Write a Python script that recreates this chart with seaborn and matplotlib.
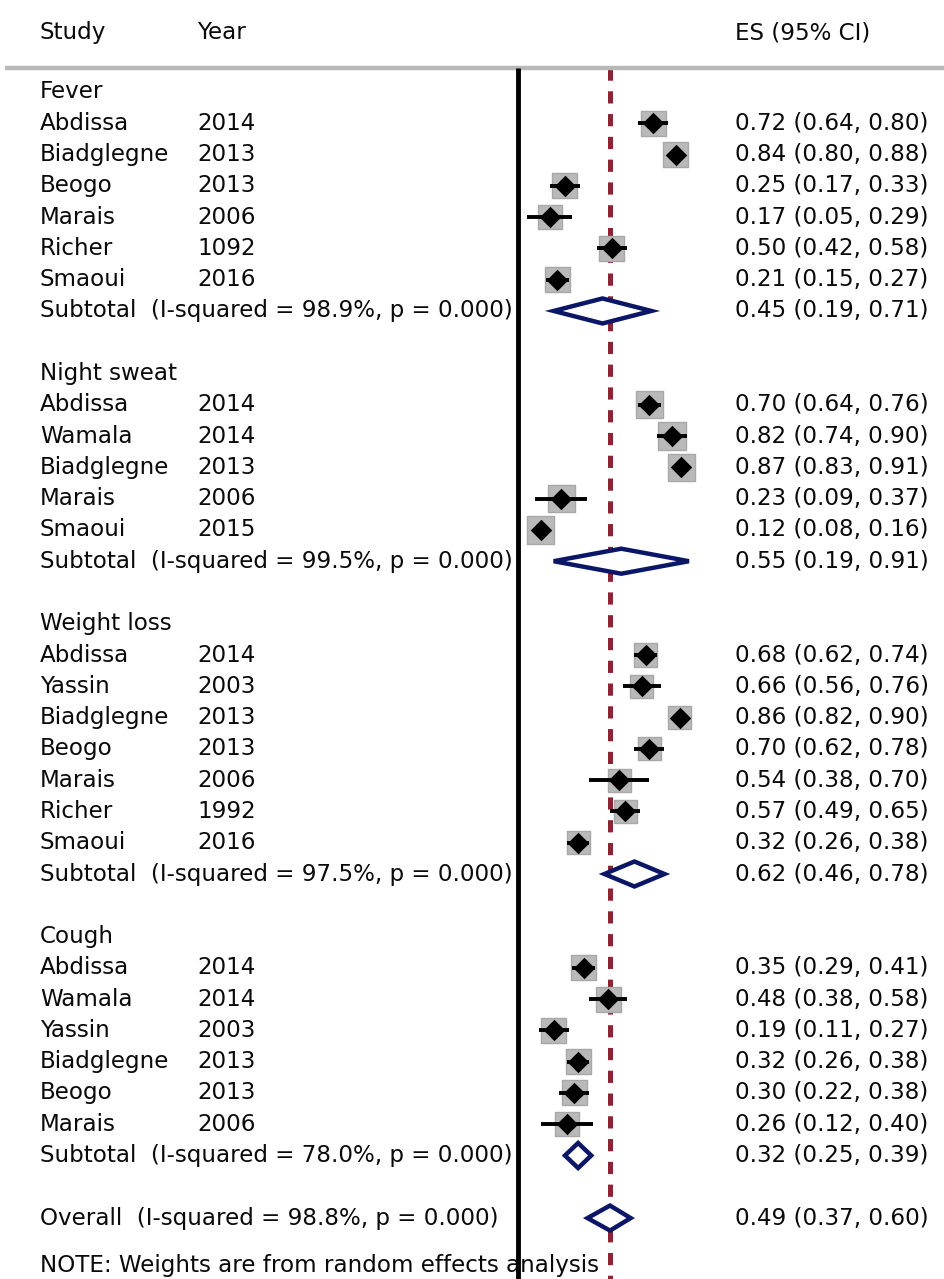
import matplotlib
matplotlib.use("Agg")
import matplotlib.pyplot as plt
import seaborn as sns
import pandas as pd
import numpy as np

# ---------------- data ----------------
groups = ["Fever", "Night sweat", "Weight loss", "Cough"]

fever_study = ["Abdissa", "Biadglegne", "Beogo", "Marais", "Richer", "Smaoui"]
fever_year = ["2014", "2013", "2013", "2006", "1092", "2016"]
fever_es = [0.72, 0.84, 0.25, 0.17, 0.50, 0.21]
fever_lo = [0.64, 0.80, 0.17, 0.05, 0.42, 0.15]
fever_hi = [0.80, 0.88, 0.33, 0.29, 0.58, 0.27]
fever_w = [16.7, 16.8, 16.7, 16.4, 16.7, 16.8]

night_study = ["Abdissa", "Wamala", "Biadglegne", "Marais", "Smaoui"]
night_year = ["2014", "2014", "2013", "2006", "2015"]
night_es = [0.70, 0.82, 0.87, 0.23, 0.12]
night_lo = [0.64, 0.74, 0.83, 0.09, 0.08]
night_hi = [0.76, 0.90, 0.91, 0.37, 0.16]
night_w = [20.1, 19.9, 20.1, 19.7, 20.2]

weight_study = ["Abdissa", "Yassin", "Biadglegne", "Beogo", "Marais", "Richer", "Smaoui"]
weight_year = ["2014", "2003", "2013", "2013", "2006", "1992", "2016"]
weight_es = [0.68, 0.66, 0.86, 0.70, 0.54, 0.57, 0.32]
weight_lo = [0.62, 0.56, 0.82, 0.62, 0.38, 0.49, 0.26]
weight_hi = [0.74, 0.76, 0.90, 0.78, 0.70, 0.65, 0.38]
weight_w = [14.4, 14.2, 14.5, 14.3, 13.9, 14.3, 14.4]

cough_study = ["Abdissa", "Wamala", "Yassin", "Biadglegne", "Beogo", "Marais"]
cough_year = ["2014", "2014", "2003", "2013", "2013", "2006"]
cough_es = [0.35, 0.48, 0.19, 0.32, 0.30, 0.26]
cough_lo = [0.29, 0.38, 0.11, 0.26, 0.22, 0.12]
cough_hi = [0.41, 0.58, 0.27, 0.38, 0.38, 0.40]
cough_w = [17.0, 16.6, 16.8, 17.0, 16.8, 15.8]

sub_i2 = ["98.9%", "99.5%", "97.5%", "78.0%"]
sub_es = [0.45, 0.55, 0.62, 0.32]
sub_lo = [0.19, 0.19, 0.46, 0.25]
sub_hi = [0.71, 0.91, 0.78, 0.39]

overall_i2 = "98.8%"
overall_es = 0.49
overall_lo = 0.37
overall_hi = 0.60

note_text = "NOTE: Weights are from random effects analysis"

# ---------------- build table ----------------
blocks = [
    (fever_study, fever_year, fever_es, fever_lo, fever_hi, fever_w),
    (night_study, night_year, night_es, night_lo, night_hi, night_w),
    (weight_study, weight_year, weight_es, weight_lo, weight_hi, weight_w),
    (cough_study, cough_year, cough_es, cough_lo, cough_hi, cough_w),
]

study_rows = []
header_rows = []
sub_rows = []
r = 0
for gi, (st, yr, es, lo, hi, w) in enumerate(blocks):
    header_rows.append((r, groups[gi]))
    r += 1
    for s_, y_, e_, l_, h_, w_ in zip(st, yr, es, lo, hi, w):
        study_rows.append(dict(row=r, study=s_, year=y_, es=e_, lo=l_, hi=h_, w=w_))
        r += 1
    sub_rows.append(dict(row=r, i2=sub_i2[gi], es=sub_es[gi], lo=sub_lo[gi], hi=sub_hi[gi]))
    r += 2
overall_row = r
note_row = r + 1.5

df = pd.DataFrame(study_rows)
df["size"] = 390 * df["w"] / df["w"].max()

# ---------------- figure ----------------
sns.set_theme(style="white")
plt.rcParams["font.family"] = ["DejaVu Sans"]
plt.rcParams["lines.scale_dashes"] = False

W, H = 945, 1279
fig = plt.figure(figsize=(W / 100, H / 100), dpi=100)
ax = fig.add_axes([0, 0, 1, 1])

x0_px, unit_px = 518, 187.8
row0_px, row_px = 92, 31.28
ax.set_xlim((0 - x0_px) / unit_px, (W - x0_px) / unit_px)
ax.set_ylim((H - row0_px) / row_px, (0 - row0_px) / row_px)
ax.axis("off")

def px_x(p):
    return (p - x0_px) / unit_px

fs = 16.6
txt = "#0a0a0a"
col_study = px_x(40)
col_year = px_x(197)
col_es = px_x(735)

# header
hdr_row = -1.9
ax.text(col_study, hdr_row, "Study", fontsize=fs, color=txt, va="center", ha="left")
ax.text(col_year, hdr_row, "Year", fontsize=fs, color=txt, va="center", ha="left")
ax.text(col_es, hdr_row, "ES (95% CI)", fontsize=fs, color=txt, va="center", ha="left")

line_row = -0.77
ax.plot([px_x(5), px_x(945)], [line_row, line_row], color="#b8b8b8", lw=3.2,
        solid_capstyle="butt", zorder=2)

# reference lines
bottom = (H - row0_px) / row_px + 1
ax.plot([0, 0], [line_row, bottom], color="black", lw=3.5, zorder=6, solid_capstyle="butt")
ax.plot([overall_es, overall_es], [line_row, bottom], color="#8c2433",
        lw=3.6, dashes=(8.8, 7.6), zorder=1)

# group headers
for rr, g in header_rows:
    ax.text(col_study, rr, g, fontsize=fs, color=txt, va="center", ha="left")

# studies
for _, row in df.iterrows():
    ax.text(col_study, row["row"], row["study"], fontsize=fs, color=txt, va="center", ha="left")
    ax.text(col_year, row["row"], row["year"], fontsize=fs, color=txt, va="center", ha="left")
    ax.text(col_es, row["row"], f"{row['es']:.2f} ({row['lo']:.2f}, {row['hi']:.2f})",
            fontsize=fs, color=txt, va="center", ha="left")

sns.scatterplot(data=df, x="es", y="row", marker="s", s=df["size"], color="#b9b9b9",
                edgecolor="#a8a8a8", linewidth=1.0, ax=ax, zorder=3, legend=False)
ax.hlines(df["row"], df["lo"], df["hi"], color="black", lw=2.8, zorder=4)
sns.scatterplot(data=df, x="es", y="row", marker="D", s=120, color="black",
                edgecolor="black", linewidth=0, ax=ax, zorder=5, legend=False)

# subtotal diamonds
navy = "#0b1766"
dh = 0.40
def diamond(rr, es, lo, hi):
    ax.fill([lo, es, hi, es, lo], [rr, rr - dh, rr, rr + dh, rr], facecolor="white",
            edgecolor=navy, lw=3.2, zorder=4, joinstyle="miter")

for srow in sub_rows:
    ax.text(col_study, srow["row"], f"Subtotal  (I-squared = {srow['i2']}, p = 0.000)",
            fontsize=fs, color=txt, va="center", ha="left")
    ax.text(col_es, srow["row"], f"{srow['es']:.2f} ({srow['lo']:.2f}, {srow['hi']:.2f})",
            fontsize=fs, color=txt, va="center", ha="left")
    diamond(srow["row"], srow["es"], srow["lo"], srow["hi"])

ax.text(col_study, overall_row, f"Overall  (I-squared = {overall_i2}, p = 0.000)",
        fontsize=fs, color=txt, va="center", ha="left")
ax.text(col_es, overall_row, f"{overall_es:.2f} ({overall_lo:.2f}, {overall_hi:.2f})",
        fontsize=fs, color=txt, va="center", ha="left")
diamond(overall_row, overall_es, overall_lo, overall_hi)

ax.text(col_study, note_row, note_text, fontsize=fs, color=txt, va="center", ha="left")

fig.savefig("out.png", dpi=100, facecolor="white")
